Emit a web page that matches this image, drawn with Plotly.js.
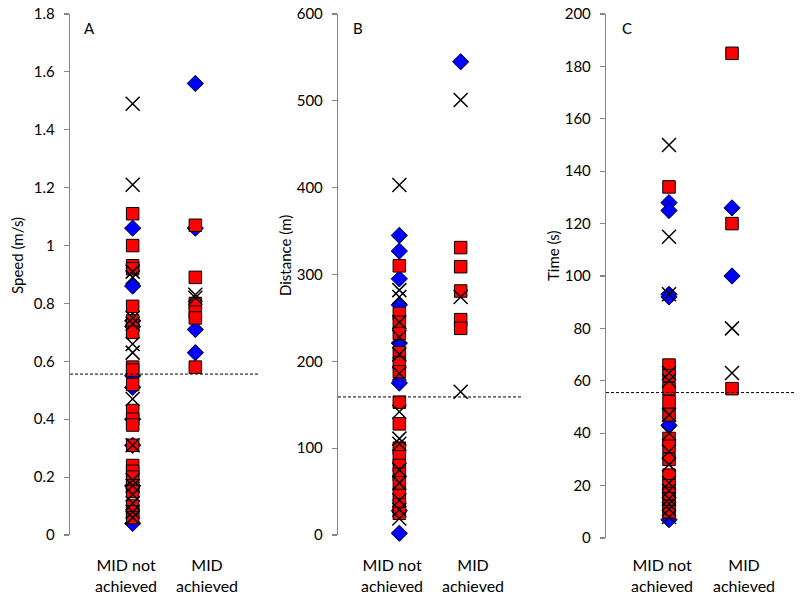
<!DOCTYPE html>
<html>
<head>
<meta charset="utf-8">
<script src="https://cdn.plot.ly/plotly-3.0.1.min.js"></script>
<style>html,body{margin:0;padding:0;background:#fff;}#chart{width:800px;height:602px;}</style>
</head>
<body>
<div id="chart"></div>
<script>
// Categories
var categories = ['MID not achieved', 'MID achieved'];
var categoryLabels = ['MID not<br>achieved', 'MID<br>achieved'];
var panelLetters = ['A', 'B', 'C'];
var yTitles = ['Speed (m/s)', 'Distance (m)', 'Time (s)'];

// Panel A: speed (m/s)
var speedBlueNot = [1.06, 0.86, 0.74, 0.72, 0.55, 0.51, 0.40, 0.31, 0.17, 0.04];
var speedRedNot = [1.11, 1.00, 0.93, 0.92, 0.79, 0.74, 0.70, 0.58, 0.57, 0.52, 0.43, 0.40, 0.38, 0.31, 0.24, 0.22, 0.20, 0.17, 0.15, 0.10, 0.08, 0.06];
var speedXNot = [1.49, 1.21, 0.91, 0.89, 0.75, 0.73, 0.66, 0.63, 0.47, 0.31, 0.19, 0.17, 0.14, 0.11, 0.08, 0.06];
var speedBlueAch = [1.56, 1.06, 0.71, 0.63];
var speedRedAch = [1.07, 0.89, 0.80, 0.77, 0.75, 0.58];
var speedXAch = [0.83, 0.82];
var speedMID = 0.556;

// Panel B: distance (m)
var distBlueNot = [345, 327, 295, 265, 221, 175, 28, 2];
var distRedNot = [310, 255, 245, 232, 210, 198, 188, 153, 128, 100, 90, 80, 70, 60, 45, 35, 25];
var distXNot = [403, 282, 274, 245, 228, 208, 186, 142, 111, 105, 75, 60, 40, 29, 19];
var distBlueAch = [545];
var distRedAch = [331, 309, 281, 248, 238];
var distXAch = [501, 274, 165];
var distMID = 159;

// Panel C: time (s)
var timeBlueNot = [128, 125, 93, 92, 43, 7];
var timeRedNot = [134, 66, 62, 57, 52, 47, 38, 35, 30, 24, 20, 17, 15, 12, 10];
var timeXNot = [150, 115, 93, 63, 60, 47, 40, 33, 28, 21, 18, 15, 13, 11, 8];
var timeBlueAch = [126, 100];
var timeRedAch = [185, 120, 57];
var timeXAch = [80, 63];
var timeMID = 55.5;

var panels = [
  {blue: [speedBlueNot, speedBlueAch], red: [speedRedNot, speedRedAch], x: [speedXNot, speedXAch], mid: speedMID, range: [0, 1.8], dtick: 0.2},
  {blue: [distBlueNot, distBlueAch], red: [distRedNot, distRedAch], x: [distXNot, distXAch], mid: distMID, range: [0, 600], dtick: 100},
  {blue: [timeBlueNot, timeBlueAch], red: [timeRedNot, timeRedAch], x: [timeXNot, timeXAch], mid: timeMID, range: [0, 200], dtick: 20}
];

var W = 800, H = 602;
var xDomPx = [[70, 258], [338, 522], [606, 795]];
var yDomPx = [[14, 535], [14, 535], [14, 538]];
var titleX = [17, 285, 553];
var titleY = 256;
var letterX = [89, 358, 627];
var labelShift = [-7, 12];

var FONT = 'Lato, "Open Sans", sans-serif';
var axisGrey = '#868686';

function rep(cat, arr) { return arr.map(function () { return cat; }); }

var traces = [];
var layout = {
  width: W, height: H,
  margin: {l: 0, r: 0, t: 0, b: 0},
  paper_bgcolor: '#fff', plot_bgcolor: 'rgba(0,0,0,0)',
  showlegend: false,
  font: {family: FONT, size: 15, color: '#000'},
  shapes: [], annotations: []
};

panels.forEach(function (p, i) {
  var sfx = i === 0 ? '' : String(i + 1);
  var xa = 'x' + sfx, ya = 'y' + sfx;
  var styles = [
    {key: 'blue', marker: {symbol: 'diamond', size: 12.5, color: '#0000FF', line: {color: '#000033', width: 1}}},
    {key: 'red', marker: {symbol: 'square', size: 12.5, color: '#FF0000', line: {color: '#000000', width: 1}}},
    {key: 'x', marker: {symbol: 'x-thin-open', size: 14, color: '#000000', line: {color: '#000000', width: 1.5}}}
  ];
  styles.forEach(function (s) {
    var xs = [], ys = [];
    categories.forEach(function (c, ci) {
      xs = xs.concat(rep(c, p[s.key][ci]));
      ys = ys.concat(p[s.key][ci]);
    });
    traces.push({type: 'scatter', mode: 'markers', x: xs, y: ys, xaxis: xa, yaxis: ya,
      marker: s.marker, hoverinfo: 'skip', cliponaxis: false});
  });

  layout['xaxis' + sfx] = {
    domain: [xDomPx[i][0] / W, xDomPx[i][1] / W],
    type: 'category', categoryorder: 'array', categoryarray: categories,
    range: [-1, 2], showticklabels: false, showgrid: false, zeroline: false,
    showline: false, ticks: '', anchor: ya, fixedrange: true
  };
  layout['yaxis' + sfx] = {
    domain: [(H - yDomPx[i][1]) / H, (H - yDomPx[i][0]) / H],
    range: p.range, dtick: p.dtick, tick0: 0,
    showgrid: false, zeroline: false,
    showline: true, linecolor: axisGrey, linewidth: 1.2,
    ticks: 'outside', ticklen: 5, tickcolor: axisGrey, tickwidth: 1.2,
    ticklabelstandoff: 6,
    tickfont: {family: FONT, size: 15, color: '#000'},
    anchor: xa, position: 0, fixedrange: true
  };

  layout.shapes.push({type: 'line', xref: xa + ' domain', yref: ya,
    x0: 0, x1: 1, y0: p.mid, y1: p.mid,
    line: {color: '#000', width: 1, dash: '3px,2px'}});

  layout.annotations.push({xref: 'paper', yref: 'paper', x: titleX[i] / W, y: 1 - titleY / H,
    text: yTitles[i], textangle: -90, showarrow: false, xanchor: 'center', yanchor: 'middle',
    font: {family: FONT, size: 15, color: '#000'}});
  layout.annotations.push({xref: 'paper', yref: 'paper', x: letterX[i] / W, y: 1 - 28 / H,
    text: panelLetters[i], showarrow: false, xanchor: 'center', yanchor: 'middle',
    font: {family: FONT, size: 15, color: '#000'}});
  categories.forEach(function (c, ci) {
    layout.annotations.push({xref: xa, yref: 'paper', x: c, y: 1 - 575 / H,
      xshift: labelShift[ci], text: categoryLabels[ci], showarrow: false,
      xanchor: 'center', yanchor: 'middle', align: 'center',
      font: {family: FONT, size: 16, color: '#000'}});
  });
});

Plotly.newPlot('chart', traces, layout, {staticPlot: true, displayModeBar: false});
</script>
</body>
</html>
